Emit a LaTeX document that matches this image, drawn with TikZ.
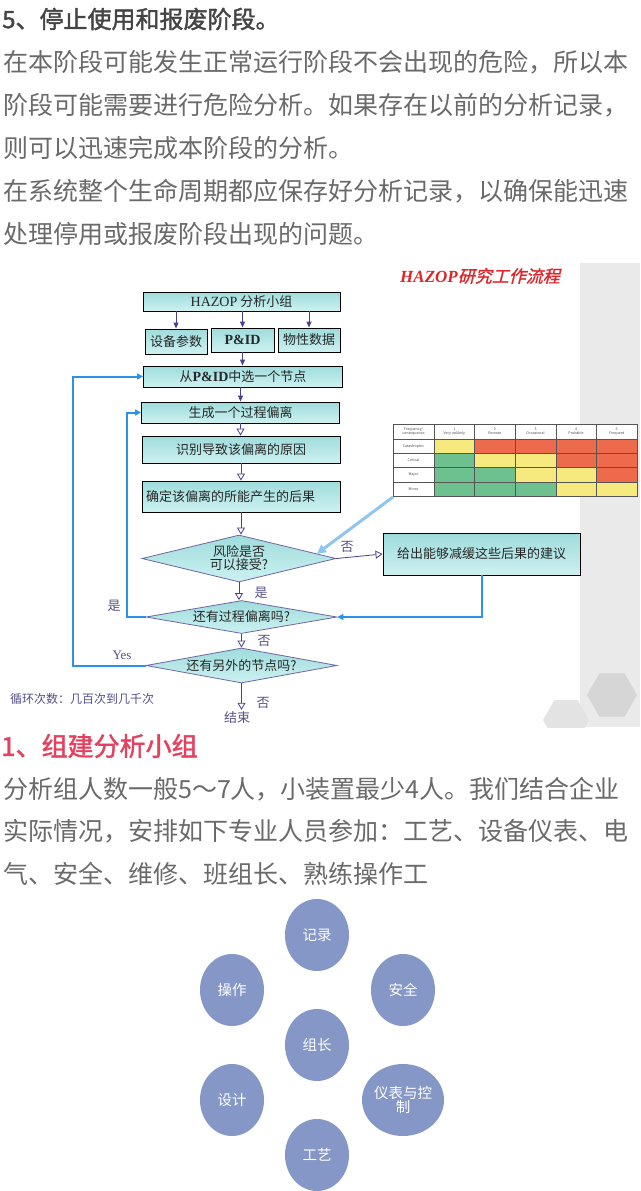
\documentclass[tikz,border=0pt]{standalone}
\usepackage{fontspec}
\setmainfont{Noto Sans CJK SC}
\newfontfamily\cjkb[FakeBold=1.6]{Noto Sans CJK SC}
\newfontfamily\tms{Liberation Serif}
\newfontfamily\redit[FakeSlant=0.25,FakeBold=1.2]{Noto Sans CJK SC}
\usetikzlibrary{arrows.meta,shapes.geometric,calc}
\newcommand{\myfs}[1]{\fontsize{#1}{#1}\selectfont}
\definecolor{hd}{HTML}{444444}
\definecolor{bodyc}{HTML}{6A6A6A}
\definecolor{redh}{HTML}{E5405E}
\definecolor{purp}{HTML}{4B3F8F}
\definecolor{lab}{HTML}{55508A}
\definecolor{bl}{HTML}{2A92E8}
\definecolor{lbl}{HTML}{8EC6F2}
\definecolor{cyA}{HTML}{9FDCDC}
\definecolor{cyB}{HTML}{CDF1F1}
\definecolor{panel}{HTML}{EAEAEA}
\definecolor{hexA}{HTML}{D6D6D6}
\definecolor{hexB}{HTML}{E3E3E3}
\definecolor{rr}{HTML}{EE6A4C}
\definecolor{yy}{HTML}{F6EA7E}
\definecolor{gg}{HTML}{6DC18E}
\definecolor{circ}{HTML}{8597C6}
\definecolor{tred}{HTML}{E02428}
\definecolor{gridc}{HTML}{555555}
\begin{document}
\begin{tikzpicture}[x=1pt,y=-1pt,
  heading/.style={anchor=west, inner sep=0, font=\cjkb\myfs{24}, text=hd},
  body/.style={anchor=west, inner sep=0, font=\myfs{25}, text=bodyc},
  fbox/.style={draw=black, line width=0.9, top color=cyA, bottom color=cyB, inner sep=0, font=\myfs{13}, text=black!85},
  fdia/.style={diamond, draw=purp!80, line width=0.8, top color=cyA, bottom color=cyB, inner sep=0},
  dtext/.style={inner sep=0, font=\myfs{13}, text=black!85, align=center},
  lbltext/.style={inner sep=0, font=\myfs{13}, text=lab},
  popen/.style={draw=purp, line width=0.8, -{Triangle[open, length=7pt, width=8pt, fill=white]}},
  pfill/.style={draw=purp, line width=1, -{Triangle[length=6pt, width=5pt]}},
  blueln/.style={draw=bl, line width=2, -{Triangle[length=6pt, width=6pt]}},
  member/.style={ellipse, fill=circ, minimum width=64, minimum height=72, inner sep=0, text=white, font=\myfs{14.5}, align=center},
  tiny/.style={inner sep=0, font=\myfs{3.6}, text=black!70, align=center}
]
\useasboundingbox (0,0) rectangle (640,1191);
\fill[white] (0,0) rectangle (640,1191);

% ---- top text ----
\node[heading] (h5) at (2,19) {5、停止使用和报废阶段。};
\node[body] (t1) at (3,62) {在本阶段可能发生正常运行阶段不会出现的危险，所以本};
\node[body] (t2) at (3,105) {阶段可能需要进行危险分析。如果存在以前的分析记录，};
\node[body] (t3) at (3,148) {则可以迅速完成本阶段的分析。};
\node[body] (t4) at (3,191) {在系统整个生命周期都应保存好分析记录，以确保能迅速};
\node[body] (t5) at (3,234) {处理停用或报废阶段出现的问题。};

% ---- flowchart background panel ----
\fill[panel] (580,263) rectangle (640,727);
\begin{scope}
\clip (0,0) rectangle (640,727);
\fill[hexA] (637,695) -- (624.5,673.3) -- (599.5,673.3) -- (587,695) -- (599.5,716.7) -- (624.5,716.7) -- cycle;
\fill[hexB] (589,720) -- (577.5,700.1) -- (554.5,700.1) -- (543,720) -- (554.5,739.9) -- (577.5,739.9) -- cycle;
\end{scope}

\node[inner sep=0, text=tred] (title) at (480,276) {{\tms\bfseries\itshape\myfs{17}HAZOP}{\redit\myfs{17}研究工作流程}};

% ---- boxes ----
\node[fbox, minimum width=197, minimum height=19] (hz) at (241.5,301.5) {{\tms\myfs{14}HAZOP} 分析小组};
\node[fbox, minimum width=62, minimum height=25] (p1) at (176,341.5) {设备参数};
\node[fbox, minimum width=63, minimum height=24] (pid) at (242.5,340) {{\tms\bfseries\myfs{14}P\&ID}};
\node[fbox, minimum width=62, minimum height=24] (p3) at (309,340) {物性数据};
\node[fbox, minimum width=199, minimum height=21] (sel) at (243,376.5) {从{\tms\bfseries\myfs{14}P\&ID}中选一个节点};
\node[fbox, minimum width=198, minimum height=21] (gen) at (240.5,412.5) {生成一个过程偏离};
\node[fbox, minimum width=198, minimum height=27] (idf) at (241,449.5) {识别导致该偏离的原因};
\node[fbox, minimum width=198, minimum height=31, text width=190, inner xsep=4, align=left] (con) at (241,496.5) {确定该偏离的所能产生的后果};
\node[fdia, minimum width=194, minimum height=47] (d1) at (239,558.5) {};
\node[dtext] (d1t) at (d1.center) {风险是否\\可以接受?};
\node[fbox, minimum width=197, minimum height=42] (adv) at (481.5,554) {给出能够减缓这些后果的建议};
\node[fdia, minimum width=191, minimum height=33] (d2) at (241.5,617) {};
\node[dtext] (d2t) at (d2.center) {还有过程偏离吗?};
\node[fdia, minimum width=191, minimum height=35] (d3) at (241.5,665.5) {};
\node[dtext] (d3t) at (d3.center) {还有另外的节点吗?};
\node[lbltext] (end) at (237,718) {结束};
\node[anchor=west, inner sep=0, font=\myfs{12}, text=lab] (loop) at (10,699) {循环次数：几百次到几千次};

% ---- risk matrix ----
\fill[white] (393,424) rectangle (637,496);
\foreach \c [count=\i from 0] in {yy,rr,rr,rr,rr} \fill[\c] ({434+\i*40.6},439) rectangle ++(40.6,14.25);
\foreach \c [count=\i from 0] in {gg,yy,yy,rr,rr} \fill[\c] ({434+\i*40.6},453.25) rectangle ++(40.6,14.25);
\foreach \c [count=\i from 0] in {gg,gg,yy,yy,rr} \fill[\c] ({434+\i*40.6},467.5) rectangle ++(40.6,14.25);
\foreach \c [count=\i from 0] in {gg,gg,gg,yy,yy} \fill[\c] ({434+\i*40.6},481.75) rectangle ++(40.6,14.25);
\draw[gridc, line width=0.5] (393,424) rectangle (637,496);
\foreach \yy in {439,453.25,467.5,481.75} \draw[gridc, line width=0.5] (393,\yy) -- (637,\yy);
\foreach \xx in {434,474.6,515.2,555.8,596.4} \draw[gridc, line width=0.5] (\xx,424) -- (\xx,496);
\node[tiny] (mh0) at (413.5,431.5) {Frequency/\\consequence};
\node[tiny] (mh1) at (454.3,431.5) {1\\Very unlikely};
\node[tiny] (mh2) at (494.9,431.5) {2\\Remote};
\node[tiny] (mh3) at (535.5,431.5) {3\\Occasional};
\node[tiny] (mh4) at (576.1,431.5) {4\\Probable};
\node[tiny] (mh5) at (616.7,431.5) {5\\Frequent};
\node[tiny] (mr1) at (413.5,446.1) {Catastrophic};
\node[tiny] (mr2) at (413.5,460.4) {Critical};
\node[tiny] (mr3) at (413.5,474.6) {Major};
\node[tiny] (mr4) at (413.5,488.9) {Minor};
\coordinate (matsw) at (393,497);

% ---- connectors ----
\draw[pfill] (hz.south -| p1.north) -- (p1.north);
\draw[pfill] (hz.south -| pid.north) -- (pid.north);
\draw[pfill] (hz.south -| p3.north) -- (p3.north);
\draw[pfill] (pid.south) -- (pid.south |- sel.north);
\draw[pfill] (sel.south -| gen.north) -- (gen.north);
\draw[popen] (gen.south) -- (gen.south |- idf.north);
\draw[popen] (idf.south) -- (idf.south |- con.north);
\draw[popen] (con.south) -- (con.south |- d1.north);
\draw[popen] (d1.east) -- (adv.west);
\draw[popen] (d1.south) -- (d1.south |- d2.north);
\draw[popen] (d2.south) -- (d2.south |- d3.north);
\draw[popen] (d3.south) -- ($(d3.south |- end.north)+(0,-2)$);
\draw[blueln] (adv.south) |- (d2.east);
\draw[blueln] (d2.west) -- ++(-19,0) |- (gen.west);
\draw[blueln] (d3.west) -- ++(-73,0) |- (sel.west);
\draw[lbl, line width=3, -{Triangle[length=9pt,width=9pt]}] (matsw) -- ($(d1.north)!0.8!(d1.east)$);

\node[lbltext] (lno1) at (347,547) {否};
\node[lbltext] (lyes1) at (261,593) {是};
\node[lbltext] (lno2) at (264,641) {否};
\node[lbltext] (lno3) at (263,703) {否};
\node[lbltext] (lyes2) at (114,606) {是};
\node[inner sep=0, font=\tms\myfs{13}, text=lab] (lyes3) at (122,655) {Yes};

% ---- bottom section ----
\node[heading, text=redh, font=\cjkb\myfs{26}] (h1) at (1,746) {1、组建分析小组};
\node[body] (b1) at (3,789) {分析组人数一般5～7人，小装置最少4人。我们结合企业};
\node[body] (b2) at (3,831) {实际情况，安排如下专业人员参加：工艺、设备仪表、电};
\node[body] (b3) at (3,874) {气、安全、维修、班组长、熟练操作工};

\node[member] (c1) at (317,935) {记录};
\node[member] (c2) at (232,990) {操作};
\node[member] (c3) at (403,990) {安全};
\node[member] (c4) at (317,1045) {组长};
\node[member] (c5) at (232,1100) {设计};
\node[member] (c6) at (403,1100) {仪表与控\\制};
\node[member] (c7) at (317,1155) {工艺};
\end{tikzpicture}
\end{document}
